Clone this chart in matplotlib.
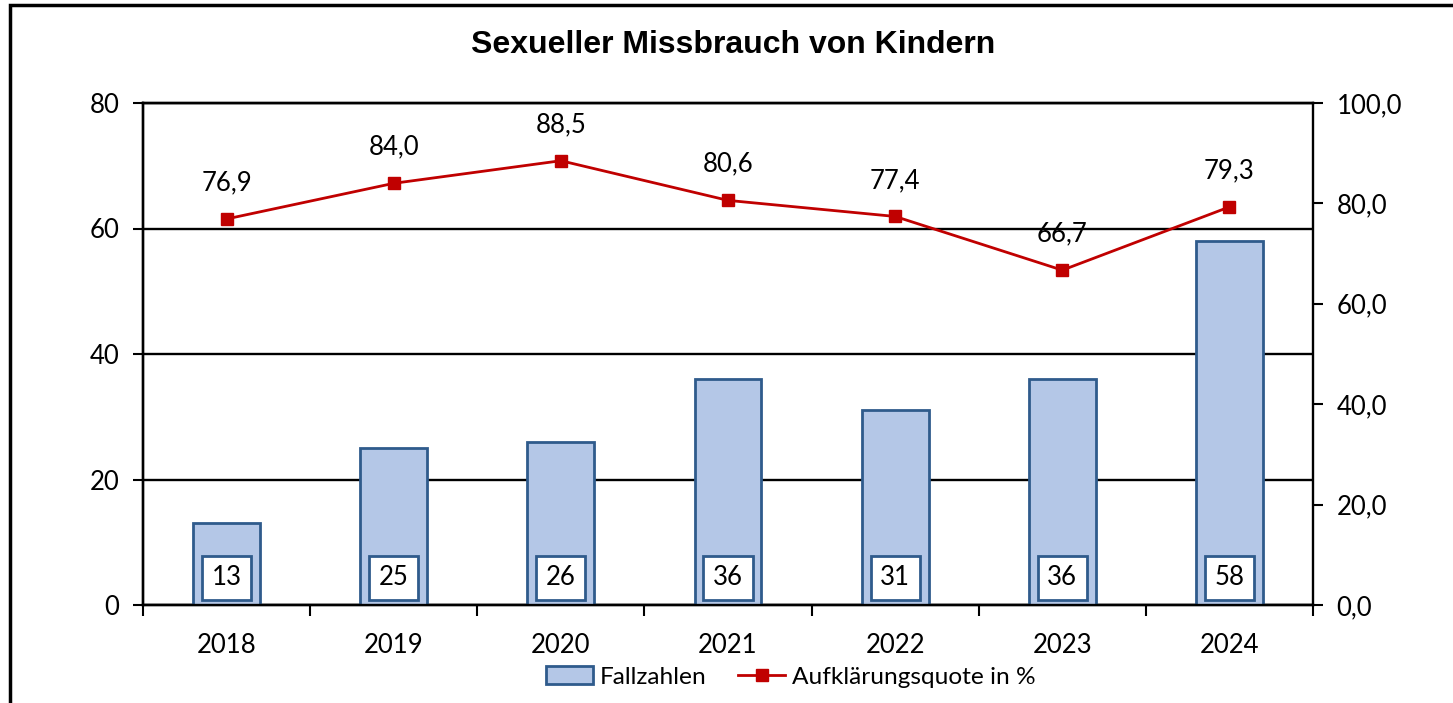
import matplotlib
matplotlib.use("Agg")
import matplotlib.pyplot as plt
from matplotlib.patches import Rectangle
from matplotlib.lines import Line2D
from matplotlib.ticker import FuncFormatter

years = ["2018", "2019", "2020", "2021", "2022", "2023", "2024"]
cases = [13, 25, 26, 36, 31, 36, 58]
rate = [76.9, 84.0, 88.5, 80.6, 77.4, 66.7, 79.3]

BAR_FILL = "#B4C7E7"
BAR_EDGE = "#2F5B8C"
RED = "#C00000"
FS = 18.5

plt.rcParams["font.family"] = ["Lato", "DejaVu Sans"]
plt.rcParams["font.size"] = FS

W, H = 1453, 703
fig = plt.figure(figsize=(W / 100, H / 100), dpi=100)
ax = fig.add_axes([143 / W, 1 - 605 / H, (1313 - 143) / W, (605 - 103) / H])

x = range(len(years))
ax.bar(x, cases, width=0.4, color=BAR_FILL, edgecolor=BAR_EDGE, linewidth=2, zorder=3)
for i, v in enumerate(cases):
    ax.annotate(str(v), (i, 0), xytext=(0, 19.5), textcoords="offset points",
                ha="center", va="center", fontsize=FS, zorder=5,
                bbox=dict(boxstyle="square,pad=0.37", fc="white", ec=BAR_EDGE, lw=2))

ax.set_xlim(-0.5, len(years) - 0.5)
ax.set_ylim(0, 80)
ax.set_yticks(range(0, 81, 20))
ax.set_xticks(list(x), years)
ax.set_xticks([i - 0.5 for i in range(len(years) + 1)], minor=True)
ax.tick_params(axis="x", which="major", length=0, pad=20)
ax.tick_params(axis="x", which="minor", length=8, width=1.5, direction="out")
ax.tick_params(axis="y", length=7, width=1.5, direction="out", pad=10)
ax.grid(axis="y", color="black", linewidth=1.7, zorder=0)
for s in ax.spines.values():
    s.set_linewidth(1.7)
ax.spines["right"].set_visible(False)

ax2 = ax.twinx()
ax2.plot(x, rate, color=RED, linewidth=2, marker="s", markersize=9, zorder=4)
for i, v in enumerate(rate):
    ax2.annotate(f"{v:.1f}".replace(".", ","), (i, v), xytext=(0, 26), textcoords="offset points",
                 ha="center", va="center", fontsize=FS)
ax2.set_ylim(0, 100)
ax2.set_yticks(range(0, 101, 20))
ax2.yaxis.set_major_formatter(FuncFormatter(lambda v, _: f"{v:.1f}".replace(".", ",")))
ax2.tick_params(axis="y", length=7, width=1.5, direction="out", pad=10)
for s in ax2.spines.values():
    s.set_linewidth(1.7)

fig.text(733 / W, 1 - 45 / H, "Sexueller Missbrauch von Kindern", ha="center", va="center",
         fontsize=23, fontweight="bold", family=["Liberation Sans", "DejaVu Sans"])

handles = [
    Rectangle((0, 0), 1, 1, fc=BAR_FILL, ec=BAR_EDGE, lw=2),
    Line2D([], [], color=RED, lw=2, marker="s", markersize=9),
]
fig.legend(handles, ["Fallzahlen", "Aufklärungsquote in %"], loc="center",
           bbox_to_anchor=(791 / W, 1 - 677 / H), ncol=2, frameon=False,
           fontsize=17.6, handlelength=1.9, handletextpad=0.3, columnspacing=1.3)

# outer chart frame
fig.patches.append(Rectangle((10 / W, -0.1), 1.2, 1.1 - 5 / H, transform=fig.transFigure,
                             fill=False, ec="black", lw=2.5))

fig.savefig("out.png", dpi=100)
